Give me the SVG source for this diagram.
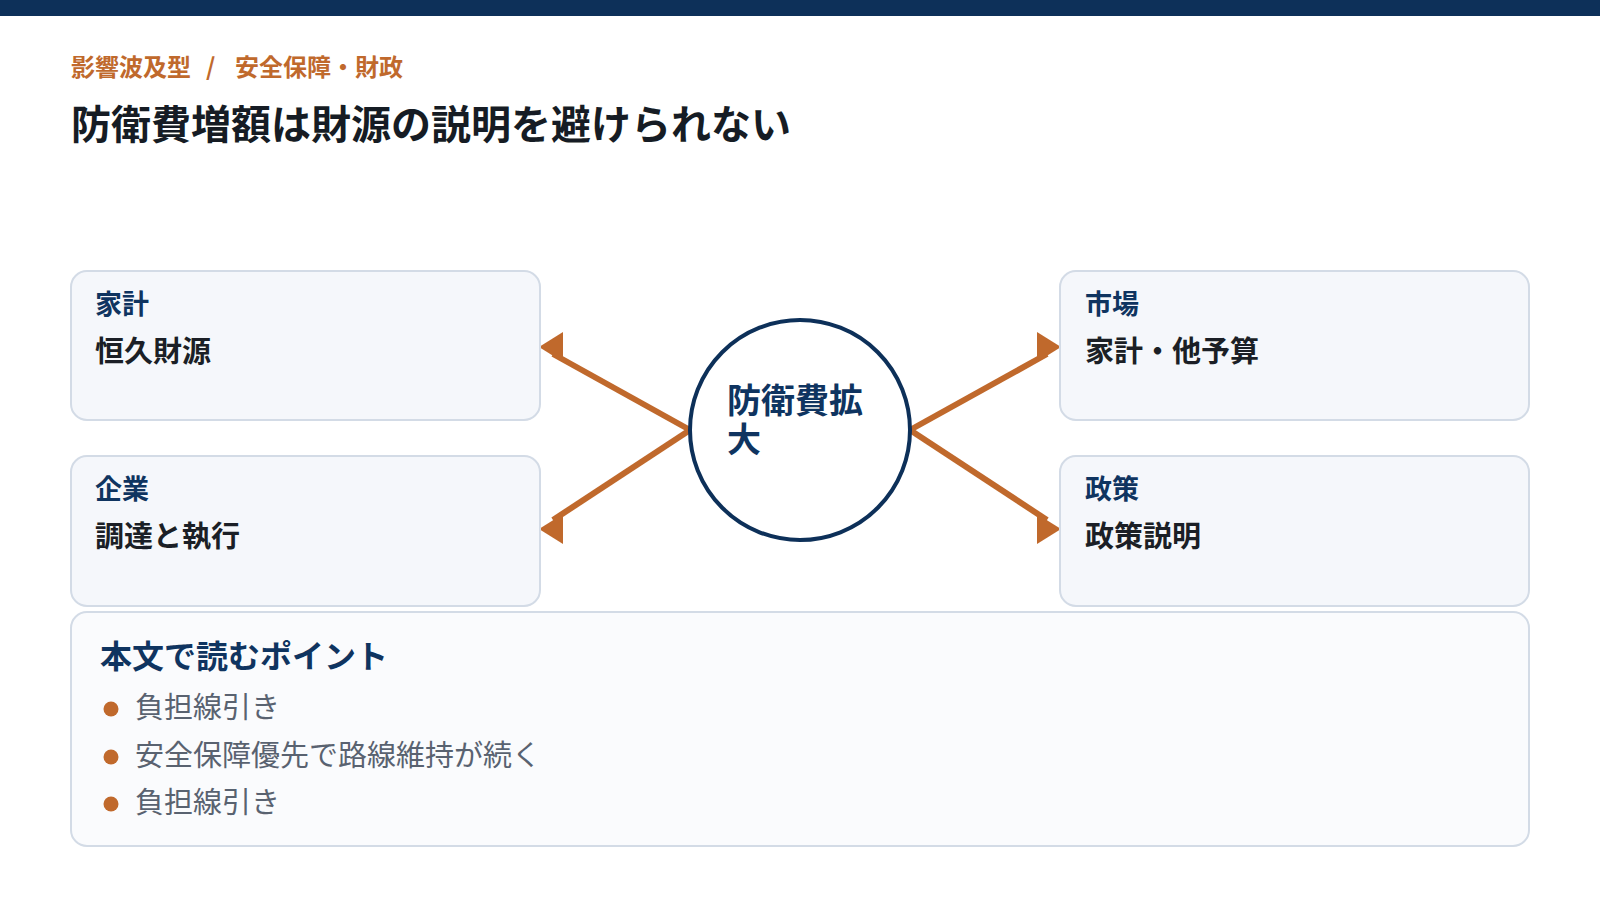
<svg xmlns="http://www.w3.org/2000/svg" width="1600" height="900" viewBox="0 0 1600 900">
  <style>
    text { font-family: "Noto Sans CJK JP", "Noto Sans", sans-serif; }
    .sub { font-size: 24px; font-weight: 700; fill: #c0692c; }
    .title { font-size: 40px; font-weight: 700; fill: #161c24; }
    .box { fill: #f5f7fb; stroke: #d3dbe6; stroke-width: 2; }
    .panel { fill: #fafbfd; stroke: #d3dbe6; stroke-width: 2; }
    .lbl { font-size: 27px; font-weight: 700; fill: #0f3460; }
    .val { font-size: 29px; font-weight: 700; fill: #1b1f26; }
    .hub { font-size: 34px; font-weight: 700; fill: #0f3460; }
    .ptitle { font-size: 32px; font-weight: 700; fill: #0f3460; }
    .item { font-size: 29px; font-weight: 400; fill: #596270; }
    .dot { fill: #c0692c; }
    .conn { stroke: #c0692c; stroke-width: 6; fill: none; }
    .head { fill: #c0692c; }
  </style>
  <rect x="0" y="0" width="1600" height="16" fill="#0d3059"/>
  <text class="sub" x="71" y="76">影響波及型<tspan x="206">/</tspan><tspan x="235">安全保障・財政</tspan></text>
  <text class="title" x="71" y="139">防衛費増額は財源の説明を避けられない</text>

  <g id="connectors">
    <line class="conn" x1="690" y1="430" x2="553" y2="354"/>
    <polygon class="head" points="539,347 563,332 563,362"/>
    <line class="conn" x1="690" y1="430" x2="553" y2="520"/>
    <polygon class="head" points="539,529 563,514 563,544"/>
    <line class="conn" x1="910" y1="430" x2="1047" y2="354"/>
    <polygon class="head" points="1061,347 1037,332 1037,362"/>
    <line class="conn" x1="910" y1="430" x2="1047" y2="520"/>
    <polygon class="head" points="1061,529 1037,514 1037,544"/>
  </g>

  <g id="node-household">
    <rect class="box" x="71" y="271" width="469" height="149" rx="16"/>
    <text class="lbl" x="95" y="314">家計</text>
    <text class="val" x="95" y="362">恒久財源</text>
  </g>
  <g id="node-company">
    <rect class="box" x="71" y="456" width="469" height="150" rx="16"/>
    <text class="lbl" x="95" y="499">企業</text>
    <text class="val" x="95" y="547">調達と執行</text>
  </g>
  <g id="node-market">
    <rect class="box" x="1060" y="271" width="469" height="149" rx="16"/>
    <text class="lbl" x="1085" y="314">市場</text>
    <text class="val" x="1085" y="362">家計・他予算</text>
  </g>
  <g id="node-policy">
    <rect class="box" x="1060" y="456" width="469" height="150" rx="16"/>
    <text class="lbl" x="1085" y="499">政策</text>
    <text class="val" x="1085" y="547">政策説明</text>
  </g>
  <g id="node-hub">
    <circle cx="800" cy="430" r="110" fill="#ffffff" stroke="#0d3059" stroke-width="4"/>
    <text class="hub" x="727" y="413">防衛費拡<tspan x="727" y="452">大</tspan></text>
  </g>

  <g id="points">
    <rect class="panel" x="71" y="612" width="1458" height="234" rx="16"/>
    <text class="ptitle" x="100" y="668">本文で読むポイント</text>
    <circle class="dot" cx="111" cy="709" r="7.5"/>
    <text class="item" x="135" y="718">負担線引き</text>
    <circle class="dot" cx="111" cy="757" r="7.5"/>
    <text class="item" x="135" y="766">安全保障優先で路線維持が続く</text>
    <circle class="dot" cx="111" cy="804" r="7.5"/>
    <text class="item" x="135" y="813">負担線引き</text>
  </g>
</svg>
